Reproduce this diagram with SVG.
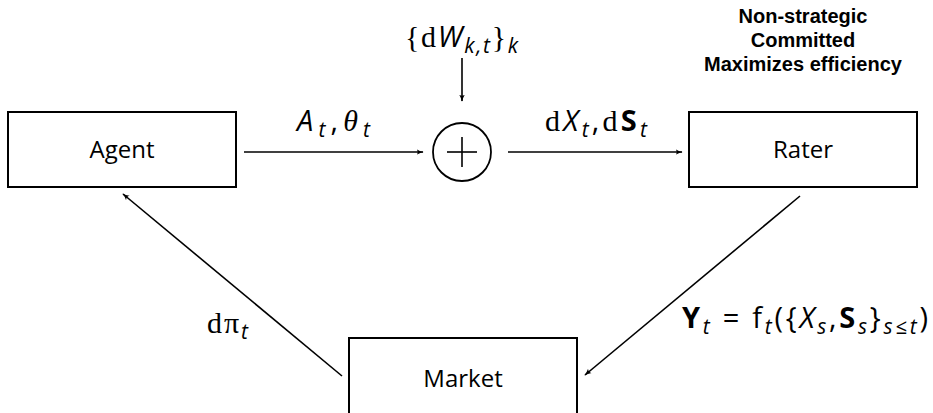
<svg xmlns="http://www.w3.org/2000/svg" width="933" height="413" viewBox="0 0 933 413">
<style>
.box{fill:#fff;stroke:#000;stroke-width:2}
.lbl{font-family:"Open Sans","Liberation Sans",sans-serif;font-size:24px;text-anchor:middle;fill:#000}
.m{font-family:"Open Sans","Liberation Sans",sans-serif;font-size:29px;fill:#000}
.i{font-style:italic}
.s{font-style:italic;font-size:21px}
.rm{font-family:"Liberation Serif",serif;font-size:30px}
.b{font-weight:bold}
.note{font-family:"Liberation Sans",sans-serif;font-size:20px;font-weight:bold;text-anchor:middle;fill:#000}
.c{stroke:#000;stroke-width:1.6;fill:none}
</style>
<defs>
<marker id="ah" viewBox="0 0 10 10" refX="9" refY="5" markerWidth="7" markerHeight="7" orient="auto" markerUnits="userSpaceOnUse">
<path d="M0,1 Q5,4 10,5 Q5,6 0,9 Q3,5 0,1Z" fill="#000"/>
</marker>
</defs>
<g id="connectors">
<line class="c" x1="244" y1="152" x2="423" y2="152" marker-end="url(#ah)"/>
<line class="c" x1="508" y1="152" x2="682" y2="152" marker-end="url(#ah)"/>
<line class="c" x1="462" y1="58" x2="462" y2="101" marker-end="url(#ah)"/>
<line class="c" x1="800" y1="196" x2="585" y2="375" marker-end="url(#ah)"/>
<line class="c" x1="342" y1="376" x2="123" y2="194" marker-end="url(#ah)"/>
</g>
<g id="agent">
<rect class="box" x="8" y="112" width="228" height="75"/>
<text class="lbl" x="122" y="158">Agent</text>
</g>
<g id="rater">
<rect class="box" x="689" y="112" width="228" height="75"/>
<text class="lbl" x="803" y="158">Rater</text>
</g>
<g id="market">
<rect class="box" x="349" y="338" width="228" height="90"/>
<text class="lbl" x="463" y="387">Market</text>
</g>
<g id="sum">
<circle cx="462" cy="152" r="29" fill="#fff" stroke="#000" stroke-width="1.8"/>
<line class="c" x1="447" y1="152" x2="477" y2="152"/>
<line class="c" x1="462" y1="137" x2="462" y2="167"/>
</g>
<g id="labels">
<text class="m" x="405" y="47" textLength="113"><tspan class="rm">{d</tspan><tspan class="i">W</tspan><tspan class="s" dy="6">k,t</tspan><tspan class="rm" dy="-6">}</tspan><tspan class="s" dy="6">k</tspan></text>
<text class="m" x="297" y="131" textLength="73"><tspan class="i">A</tspan><tspan class="s" dy="6">t</tspan><tspan dy="-6">,</tspan><tspan class="i rm">θ</tspan><tspan class="s" dy="6">t</tspan></text>
<text class="m" x="545" y="131" textLength="102"><tspan class="rm">d</tspan><tspan class="i">X</tspan><tspan class="s" dy="6">t</tspan><tspan dy="-6">,</tspan><tspan class="rm">d</tspan><tspan class="b">S</tspan><tspan class="s" dy="6">t</tspan></text>
<text class="m" x="207" y="333" textLength="41"><tspan class="rm">dπ</tspan><tspan class="s" dy="6">t</tspan></text>
<text class="m" x="682" y="328" textLength="246"><tspan class="b">Y</tspan><tspan class="s" dy="6">t</tspan><tspan dy="-6"> = f</tspan><tspan class="s" dy="6">t</tspan><tspan dy="-6">({</tspan><tspan class="i">X</tspan><tspan class="s" dy="6">s</tspan><tspan dy="-6">,</tspan><tspan class="b">S</tspan><tspan class="s" dy="6">s</tspan><tspan dy="-6">}</tspan><tspan class="s" dy="6">s≤t</tspan><tspan dy="-6">)</tspan></text>
<text class="note" x="803" y="23">Non-strategic</text>
<text class="note" x="803" y="47">Committed</text>
<text class="note" x="803" y="71">Maximizes efficiency</text>
</g>
</svg>
